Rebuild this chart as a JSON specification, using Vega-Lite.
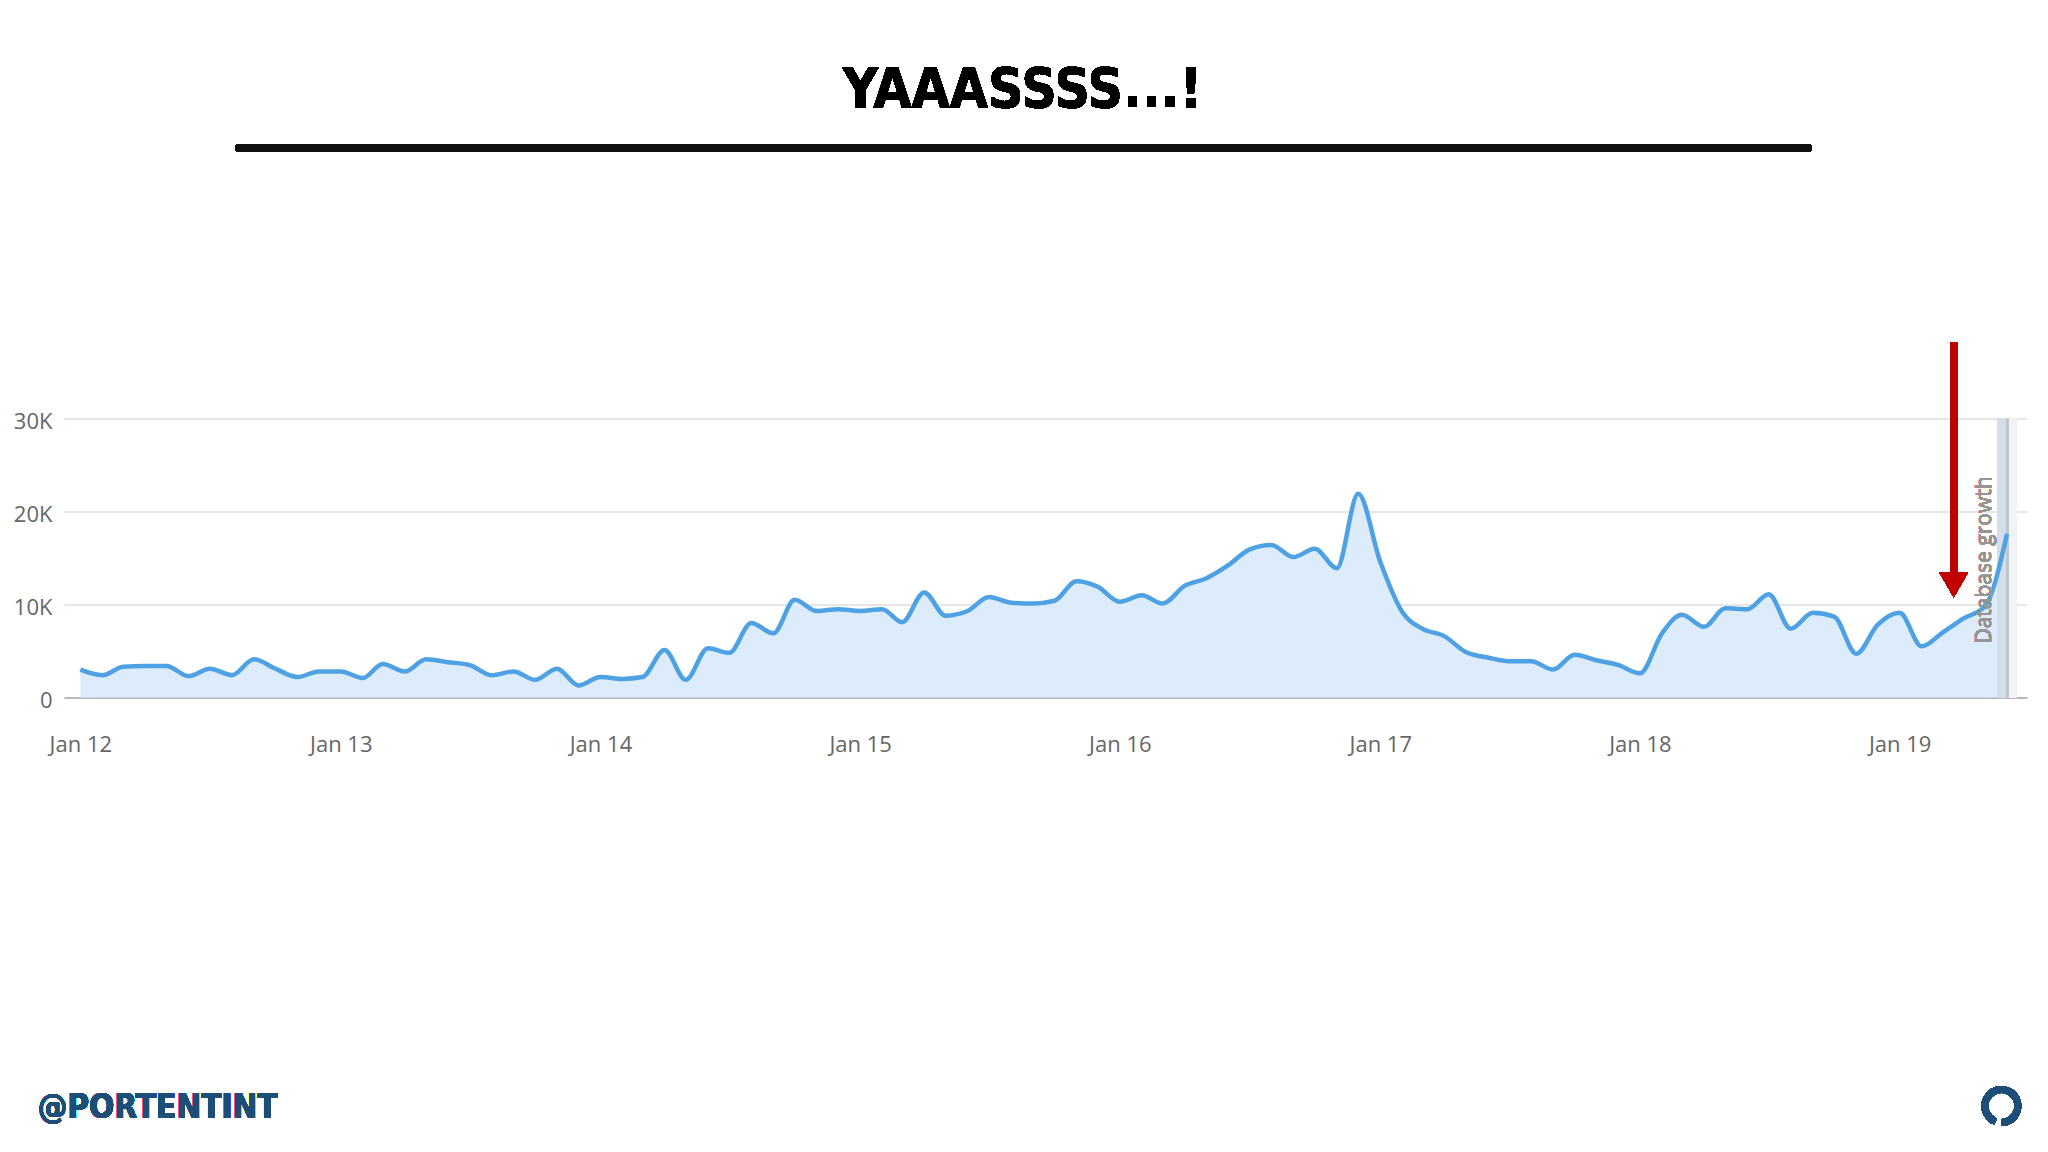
{
  "$schema": "https://vega.github.io/schema/vega-lite/v6.json",
  "width": 1963,
  "height": 279,
  "autosize": {"type": "none"},
  "padding": {"left": 64, "top": 418.5, "right": 21, "bottom": 454.5},
  "background": "white",
  "config": {"view": {"stroke": null}},
  "datasets": {
    "visits": [
      {"month": "2012-01-01", "value": 3000}, {"month": "2012-02-01", "value": 2400}, {"month": "2012-03-01", "value": 3300},
      {"month": "2012-04-01", "value": 3400}, {"month": "2012-05-01", "value": 3400}, {"month": "2012-06-01", "value": 2300},
      {"month": "2012-07-01", "value": 3100}, {"month": "2012-08-01", "value": 2400}, {"month": "2012-09-01", "value": 4100},
      {"month": "2012-10-01", "value": 3100}, {"month": "2012-11-01", "value": 2200}, {"month": "2012-12-01", "value": 2800},
      {"month": "2013-01-01", "value": 2800}, {"month": "2013-02-01", "value": 2100}, {"month": "2013-03-01", "value": 3600},
      {"month": "2013-04-01", "value": 2800}, {"month": "2013-05-01", "value": 4100}, {"month": "2013-06-01", "value": 3800},
      {"month": "2013-07-01", "value": 3500}, {"month": "2013-08-01", "value": 2400}, {"month": "2013-09-01", "value": 2800},
      {"month": "2013-10-01", "value": 1900}, {"month": "2013-11-01", "value": 3100}, {"month": "2013-12-01", "value": 1300},
      {"month": "2014-01-01", "value": 2200}, {"month": "2014-02-01", "value": 2000}, {"month": "2014-03-01", "value": 2200},
      {"month": "2014-04-01", "value": 5100}, {"month": "2014-05-01", "value": 1900}, {"month": "2014-06-01", "value": 5300},
      {"month": "2014-07-01", "value": 4800}, {"month": "2014-08-01", "value": 8000}, {"month": "2014-09-01", "value": 6900},
      {"month": "2014-10-01", "value": 10500}, {"month": "2014-11-01", "value": 9300}, {"month": "2014-12-01", "value": 9500},
      {"month": "2015-01-01", "value": 9300}, {"month": "2015-02-01", "value": 9500}, {"month": "2015-03-01", "value": 8100},
      {"month": "2015-04-01", "value": 11300}, {"month": "2015-05-01", "value": 8800}, {"month": "2015-06-01", "value": 9300},
      {"month": "2015-07-01", "value": 10800}, {"month": "2015-08-01", "value": 10200}, {"month": "2015-09-01", "value": 10100},
      {"month": "2015-10-01", "value": 10400}, {"month": "2015-11-01", "value": 12500}, {"month": "2015-12-01", "value": 11900},
      {"month": "2016-01-01", "value": 10300}, {"month": "2016-02-01", "value": 11000}, {"month": "2016-03-01", "value": 10100},
      {"month": "2016-04-01", "value": 12000}, {"month": "2016-05-01", "value": 12800}, {"month": "2016-06-01", "value": 14200},
      {"month": "2016-07-01", "value": 15900}, {"month": "2016-08-01", "value": 16400}, {"month": "2016-09-01", "value": 15100},
      {"month": "2016-10-01", "value": 16000}, {"month": "2016-11-01", "value": 13900}, {"month": "2016-12-01", "value": 21900},
      {"month": "2017-01-01", "value": 14600}, {"month": "2017-02-01", "value": 9200}, {"month": "2017-03-01", "value": 7400},
      {"month": "2017-04-01", "value": 6600}, {"month": "2017-05-01", "value": 4900}, {"month": "2017-06-01", "value": 4300},
      {"month": "2017-07-01", "value": 3900}, {"month": "2017-08-01", "value": 3900}, {"month": "2017-09-01", "value": 3000},
      {"month": "2017-10-01", "value": 4600}, {"month": "2017-11-01", "value": 4000}, {"month": "2017-12-01", "value": 3500},
      {"month": "2018-01-01", "value": 2600}, {"month": "2018-02-01", "value": 6900}, {"month": "2018-03-01", "value": 8900},
      {"month": "2018-04-01", "value": 7600}, {"month": "2018-05-01", "value": 9600}, {"month": "2018-06-01", "value": 9500},
      {"month": "2018-07-01", "value": 11100}, {"month": "2018-08-01", "value": 7400}, {"month": "2018-09-01", "value": 9100},
      {"month": "2018-10-01", "value": 8700}, {"month": "2018-11-01", "value": 4700}, {"month": "2018-12-01", "value": 7800},
      {"month": "2019-01-01", "value": 9100}, {"month": "2019-02-01", "value": 5500}, {"month": "2019-03-01", "value": 6900},
      {"month": "2019-04-01", "value": 8500}, {"month": "2019-05-01", "value": 9800}, {"month": "2019-06-01", "value": 17600}
    ]
  },
  "data": {"name": "visits"},
  "layer": [
    {
      "mark": {"type": "area", "interpolate": "monotone", "color": "#ddecfa"},
      "encoding": {
        "x": {
          "field": "month", "type": "temporal", "title": null,
          "scale": {"domain": [{"year": 2011, "month": 12, "date": 9}, {"year": 2019, "month": 6, "date": 29}]},
          "axis": {
            "values": [
              {"year": 2012, "month": 1, "date": 1}, {"year": 2013, "month": 1, "date": 1},
              {"year": 2014, "month": 1, "date": 1}, {"year": 2015, "month": 1, "date": 1},
              {"year": 2016, "month": 1, "date": 1}, {"year": 2017, "month": 1, "date": 1},
              {"year": 2018, "month": 1, "date": 1}, {"year": 2019, "month": 1, "date": 1}
            ],
            "format": "%b %y", "grid": false, "ticks": false,
            "domain": true, "domainColor": "#b3bac4", "domainWidth": 2,
            "labelPadding": 37, "labelFont": "Open Sans", "labelFontSize": 22, "labelColor": "#666666"
          }
        },
        "y": {
          "field": "value", "type": "quantitative", "title": null,
          "scale": {"domain": [0, 30000], "nice": false},
          "axis": {
            "values": [0, 10000, 20000, 30000],
            "labelExpr": "datum.value == 0 ? '0' : format(datum.value / 1000, 'd') + 'K'",
            "grid": true, "gridColor": "#e6e6e6", "gridWidth": 2,
            "domain": false, "ticks": false, "labelPadding": 12, "labelOffset": 3,
            "labelFont": "Open Sans", "labelFontSize": 22, "labelColor": "#666666"
          }
        }
      }
    },
    {
      "mark": {"type": "rect", "color": "#d3dee9", "opacity": 0.6},
      "encoding": {
        "x": {"datum": {"year": 2019, "month": 5, "date": 18}, "type": "temporal", "title": null},
        "x2": {"datum": {"year": 2019, "month": 6, "date": 1}},
        "y": {"datum": 0, "type": "quantitative", "title": null},
        "y2": {"datum": 30000}
      }
    },
    {
      "mark": {"type": "rect", "color": "#f0f2f5"},
      "encoding": {
        "x": {"datum": {"year": 2019, "month": 6, "date": 1}, "type": "temporal", "title": null},
        "x2": {"datum": {"year": 2019, "month": 6, "date": 15}},
        "y": {"datum": 0, "type": "quantitative", "title": null},
        "y2": {"datum": 30000}
      }
    },
    {
      "mark": {"type": "rule", "color": "#bcc4cc", "strokeWidth": 2},
      "encoding": {
        "x": {"datum": {"year": 2019, "month": 6, "date": 1}, "type": "temporal", "title": null},
        "y": {"datum": 0, "type": "quantitative", "title": null},
        "y2": {"datum": 30000}
      }
    },
    {
      "mark": {"type": "line", "interpolate": "monotone", "color": "#4ea2e3", "strokeWidth": 4.5},
      "encoding": {
        "x": {"field": "month", "type": "temporal", "title": null},
        "y": {"field": "value", "type": "quantitative", "title": null}
      }
    },
    {
      "mark": {"type": "text", "text": "Database growth", "angle": 270, "font": "Open Sans", "fontWeight": "normal", "fontSize": 21, "color": "#959595", "align": "center", "baseline": "middle"},
      "encoding": {
        "x": {"datum": {"year": 2019, "month": 5, "date": 1}, "type": "temporal", "title": null},
        "y": {"datum": 14785, "type": "quantitative", "title": null}
      }
    },
    {
      "mark": {"type": "rule", "color": "#c00000", "strokeWidth": 7},
      "encoding": {
        "x": {"datum": {"year": 2019, "month": 3, "date": 18}, "type": "temporal", "title": null},
        "y": {"datum": 38226, "type": "quantitative", "title": null},
        "y2": {"datum": 13300}
      }
    },
    {
      "mark": {"type": "point", "shape": "triangle-down", "filled": true, "size": 800, "color": "#c00000", "opacity": 1},
      "encoding": {
        "x": {"datum": {"year": 2019, "month": 3, "date": 18}, "type": "temporal", "title": null},
        "y": {"datum": 12097, "type": "quantitative", "title": null}
      }
    },
    {
      "mark": {"type": "text", "text": "YAAASSSS...!", "font": "'DejaVu Sans Condensed', 'Liberation Sans', sans-serif", "fontWeight": "bold", "fontSize": 55, "color": "#000000", "align": "center", "baseline": "alphabetic"},
      "encoding": {
        "x": {"datum": {"year": 2015, "month": 8, "date": 17}, "type": "temporal", "title": null},
        "y": {"datum": 63497, "type": "quantitative", "title": null}
      }
    },
    {
      "mark": {"type": "rule", "color": "#111111", "strokeWidth": 8, "strokeCap": "round"},
      "encoding": {
        "x": {"datum": {"year": 2012, "month": 8, "date": 11}, "type": "temporal", "title": null},
        "x2": {"datum": {"year": 2018, "month": 8, "date": 25}},
        "y": {"datum": 59086, "type": "quantitative", "title": null}
      }
    },
    {
      "mark": {"type": "text", "text": "@PORTENTINT", "font": "'DejaVu Sans Condensed', 'Liberation Sans', sans-serif", "fontWeight": "bold", "fontSize": 33, "color": "#1d4e78", "align": "left", "baseline": "middle"},
      "encoding": {
        "x": {"datum": {"year": 2011, "month": 11, "date": 2}, "type": "temporal", "title": null},
        "y": {"datum": -44140, "type": "quantitative", "title": null}
      }
    },
    {
      "mark": {"type": "arc", "radius": 20, "radius2": 13, "theta": 3.5, "theta2": 9.4, "color": "#1d4e78"},
      "encoding": {
        "x": {"datum": {"year": 2019, "month": 5, "date": 24}, "type": "temporal", "title": null},
        "y": {"datum": -43925, "type": "quantitative", "title": null}
      }
    }
  ]
}
